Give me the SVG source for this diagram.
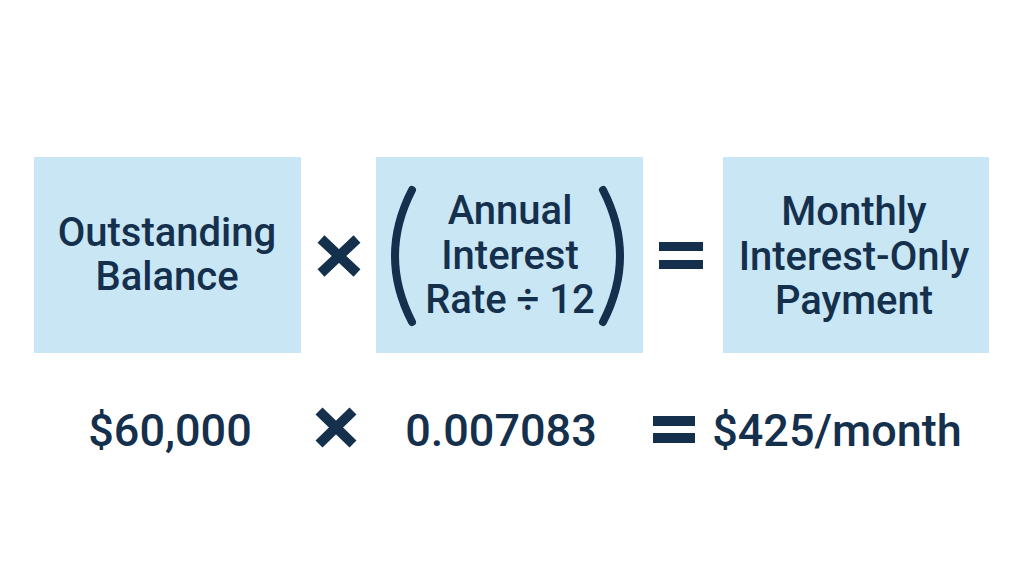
<svg xmlns="http://www.w3.org/2000/svg" width="1024" height="571" viewBox="0 0 1024 571">
<style>
.box{fill:#c9e6f5}
.t{font-family:Roboto,"Liberation Sans",sans-serif;font-weight:500;fill:#15304d;text-anchor:middle}
.lbl{font-size:40px}
.num{font-size:45px}
.op{stroke:#15304d;fill:none}
.bar{fill:#15304d}
</style>
<rect width="1024" height="571" fill="#ffffff"/>
<g id="node-balance">
<rect class="box" x="34" y="157" width="267" height="196"/>
<text class="t lbl" x="167" y="246">Outstanding</text>
<text class="t lbl" x="167" y="290">Balance</text>
</g>
<g id="node-rate">
<rect class="box" x="376" y="157" width="267" height="196"/>
<path class="op" stroke-width="8" stroke-linecap="round" d="M412,190 Q378,256 412,322"/>
<path class="op" stroke-width="8" stroke-linecap="round" d="M603,190 Q637,256 603,322"/>
<text class="t lbl" x="510" y="224">Annual</text>
<text class="t lbl" x="510" y="269">Interest</text>
<text class="t lbl" x="510" y="313">Rate ÷ 12</text>
</g>
<g id="node-payment">
<rect class="box" x="723" y="157" width="266" height="196"/>
<text class="t lbl" x="854" y="225">Monthly</text>
<text class="t lbl" x="854" y="270">Interest-Only</text>
<text class="t lbl" x="854" y="314">Payment</text>
</g>
<g id="operators">
<path class="op" stroke-width="10" d="M321,239 L357,273 M357,239 L321,273"/>
<rect class="bar" x="659" y="242" width="44" height="9"/>
<rect class="bar" x="659" y="260" width="44" height="9"/>
<path class="op" stroke-width="10" d="M319,411 L353,444 M353,411 L319,444"/>
<rect class="bar" x="653" y="416" width="42" height="10"/>
<rect class="bar" x="653" y="433" width="42" height="10"/>
</g>
<g id="values">
<text class="t num" x="170" y="446">$60,000</text>
<text class="t num" x="501" y="446">0.007083</text>
<text class="t num" x="837" y="446">$425/month</text>
</g>
</svg>
